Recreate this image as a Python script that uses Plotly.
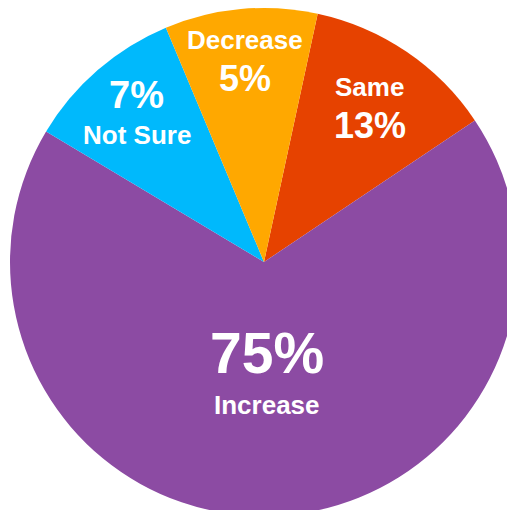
import math
import plotly.graph_objects as go

# Data (clockwise from the "Same" slice)
categories = ["Same", "Increase", "Not Sure", "Decrease"]
shown_pct = [13, 75, 7, 5]                 # percentages printed on the chart
slice_share = [12.2, 68.0, 10.1, 9.7]      # angular share of each drawn slice
colors = ["#E64200", "#8C4BA3", "#00B9FC", "#FFA800"]

# layout geometry (pixels): pie larger than the visible window, clipped right/bottom
W, H = 520, 520
CX, CY, R = 264, 262, 254
start_deg = 12.2

dom_x = [(CX - R) / W, (CX + R) / W]
dom_y = [(H - (CY + R)) / H, (H - (CY - R)) / H]

fig = go.Figure(go.Pie(
    labels=categories,
    values=slice_share,
    sort=False,
    direction="clockwise",
    rotation=start_deg,
    marker=dict(colors=colors, line=dict(width=0)),
    textinfo="none",
    hoverinfo="label",
    showlegend=False,
    domain=dict(x=dom_x, y=dom_y),
))

# label placement derived from slice geometry
total = sum(slice_share)
label_r = [0.74, 0.46, 0.765, 0.80]
pct_size = [36, 57, 38, 36]
name_size = [26, 26, 26, 26]
pct_first = [False, True, True, False]
FONT = "Liberation Sans, Arial, Helvetica, sans-serif"
cx_p = sum(dom_x) / 2
cy_p = sum(dom_y) / 2
cum = 0.0
for i, cat in enumerate(categories):
    a0 = start_deg + cum / total * 360
    cum += slice_share[i]
    a1 = start_deg + cum / total * 360
    mid = math.radians((a0 + a1) / 2)
    px = cx_p + label_r[i] * R * math.sin(mid) / W
    py = cy_p + label_r[i] * R * math.cos(mid) / H
    gap = (pct_size[i] + name_size[i]) * 0.31
    pct_shift = gap if pct_first[i] else -gap
    fig.add_annotation(x=px, y=py, xref="paper", yref="paper",
                       xanchor="center", yanchor="middle",
                       text=f"{shown_pct[i]}%", showarrow=False,
                       yshift=pct_shift,
                       font=dict(family=FONT, size=pct_size[i],
                                 color="white", weight="bold"))
    fig.add_annotation(x=px, y=py, xref="paper", yref="paper",
                       xanchor="center", yanchor="middle",
                       text=cat, showarrow=False,
                       yshift=-pct_shift,
                       font=dict(family=FONT, size=name_size[i],
                                 color="white", weight="bold"))

fig.update_layout(
    width=W, height=H,
    margin=dict(l=0, r=0, t=0, b=0),
    paper_bgcolor="white",
    plot_bgcolor="white",
)

fig.write_html(
    "out.html",
    config={"displayModeBar": False},
    post_script="document.body.style.margin='0';document.body.style.overflow='hidden';",
)
